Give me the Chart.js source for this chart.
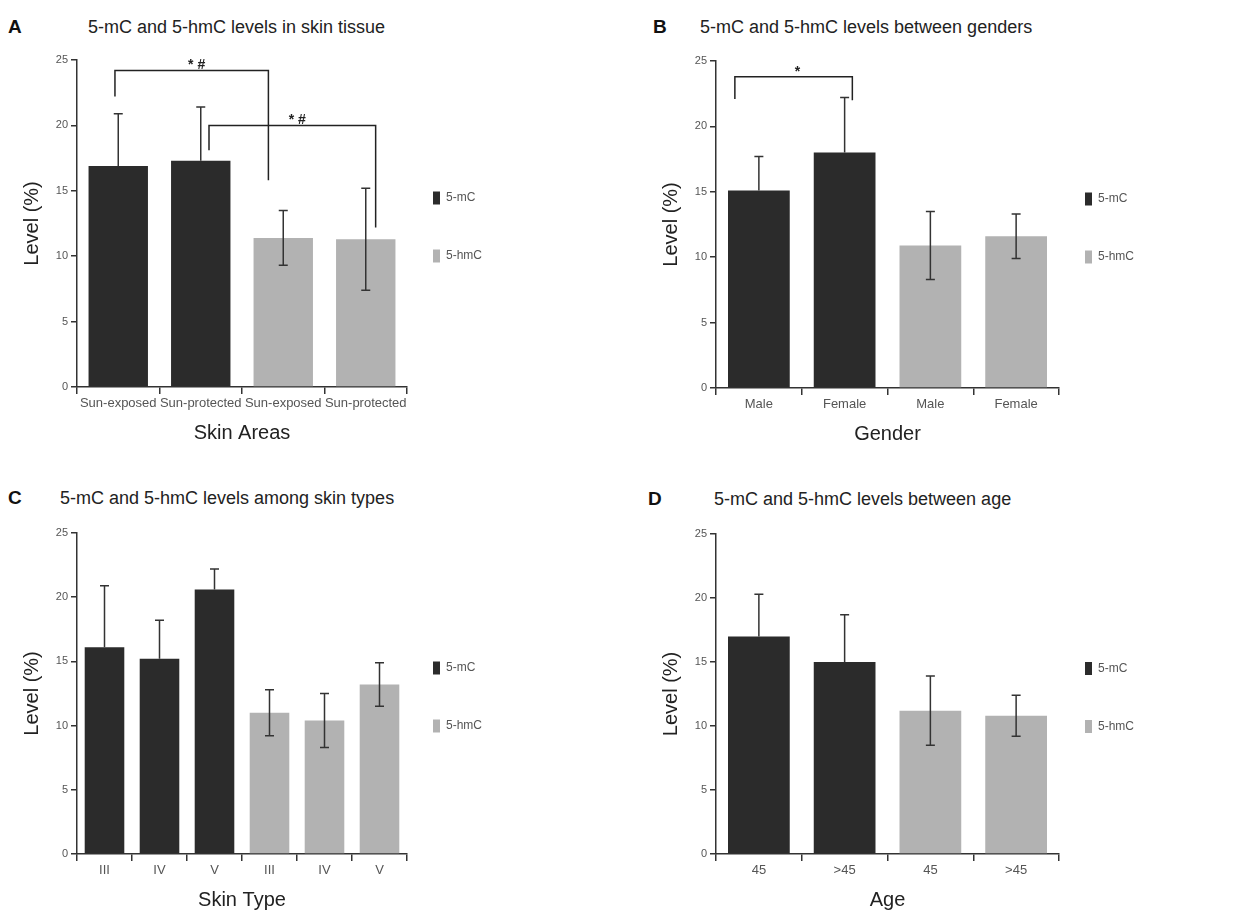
<!DOCTYPE html>
<html>
<head>
<meta charset="utf-8">
<script src="https://cdn.jsdelivr.net/npm/chart.js@4.4.1/dist/chart.umd.min.js"></script>
<style>
html, body { margin: 0; padding: 0; background: #fff; width: 1237px; height: 916px; overflow: hidden; }
canvas { position: absolute; }
.letter { position: absolute; font: bold 19px "Liberation Sans", Arial, sans-serif; color: #111; line-height: 22px; }
.title { position: absolute; font: 18px "Liberation Sans", Arial, sans-serif; color: #222; line-height: 22px; white-space: nowrap; }
</style>
</head>
<body>
<div class="letter" style="left:8px;top:16px">A</div>
<div class="title" style="left:88px;top:16px">5-mC and 5-hmC levels in skin tissue</div>
<div class="letter" style="left:653px;top:16px">B</div>
<div class="title" style="left:700px;top:16px">5-mC and 5-hmC levels between genders</div>
<div class="letter" style="left:8px;top:487px">C</div>
<div class="title" style="left:60px;top:487px">5-mC and 5-hmC levels among skin types</div>
<div class="letter" style="left:648px;top:488px">D</div>
<div class="title" style="left:714px;top:488px">5-mC and 5-hmC levels between age</div>

<canvas id="chartA" width="495" height="410" style="left:0;top:45px"></canvas>
<canvas id="chartB" width="508" height="410" style="left:639px;top:46px"></canvas>
<canvas id="chartC" width="495" height="404" style="left:0;top:518px"></canvas>
<canvas id="chartD" width="508" height="403" style="left:639px;top:519px"></canvas>

<script>
// series names
const seriesNames = ['5-mC', '5-hmC'];
const yTicks = [0, 5, 10, 15, 20, 25];

// A - skin areas
const areaLabels = ['Sun-exposed', 'Sun-protected', 'Sun-exposed', 'Sun-protected'];
const areaMC = [16.9, 17.3, null, null];
const areaHMC = [null, null, 11.4, 11.3];
const areaErr = [4.0, 4.1, 2.1, 3.9];

// B - gender
const genderLabels = ['Male', 'Female', 'Male', 'Female'];
const genderMC = [15.1, 18.0, null, null];
const genderHMC = [null, null, 10.9, 11.6];
const genderErr = [2.6, 4.2, 2.6, 1.7];

// C - skin type
const typeLabels = ['III', 'IV', 'V', 'III', 'IV', 'V'];
const typeMC = [16.1, 15.2, 20.6, null, null, null];
const typeHMC = [null, null, null, 11.0, 10.4, 13.2];
const typeErr = [4.8, 3.0, 1.6, 1.8, 2.1, 1.7];

// D - age
const ageLabels = ['45', '>45', '45', '>45'];
const ageMC = [17.0, 15.0, null, null];
const ageHMC = [null, null, 11.2, 10.8];
const ageErr = [3.3, 3.7, 2.7, 1.6];

// significance brackets (category index, value)
const areaSig = [
    {from: -0.04, to: 1.82, top: 24.2, left: 22.2, right: 15.8, text: '* #', at: 0.95},
    {from: 1.1, to: 3.12, top: 20.0, left: 18.1, right: 12.2, text: '* #', at: 2.17}
];
const genderSig = [
    {from: -0.28, to: 1.09, top: 23.8, left: 22.1, right: 22.0, text: '*', at: 0.45}
];

const DARK = '#2b2b2b';
const GREY = '#b2b2b2';
const FONT = '"Liberation Sans", Arial, sans-serif';
Chart.defaults.font.family = FONT;

// error bars drawn from each bar element
const errorBars = {
    id: 'errorBars',
    afterDatasetsDraw(chart) {
        const {ctx, scales: {y}} = chart;
        ctx.save();
        ctx.strokeStyle = '#333';
        ctx.lineWidth = 1.5;
        chart.data.datasets.forEach((ds, i) => {
            chart.getDatasetMeta(i).data.forEach((bar, j) => {
                const v = ds.data[j];
                if (v == null) return;
                const e = ds.errors[j];
                const top = y.getPixelForValue(v + e);
                // lower whisker is hidden inside the dark bars
                const bot = ds.lowerWhisker ? y.getPixelForValue(v - e) : bar.y;
                ctx.beginPath();
                ctx.moveTo(bar.x, top);
                ctx.lineTo(bar.x, bot);
                ctx.moveTo(bar.x - 4.5, top);
                ctx.lineTo(bar.x + 4.5, top);
                if (ds.lowerWhisker) {
                    ctx.moveTo(bar.x - 4.5, bot);
                    ctx.lineTo(bar.x + 4.5, bot);
                }
                ctx.stroke();
            });
        });
        ctx.restore();
    }
};

// significance brackets
const brackets = {
    id: 'brackets',
    afterDatasetsDraw(chart, args, opts) {
        const list = opts.items || [];
        const {ctx, scales: {x, y}} = chart;
        ctx.save();
        ctx.strokeStyle = '#222';
        ctx.fillStyle = '#222';
        ctx.lineWidth = 1.5;
        ctx.font = 'bold 14px ' + FONT;
        ctx.textAlign = 'center';
        ctx.textBaseline = 'bottom';
        list.forEach(b => {
            const x1 = x.getPixelForValue(b.from);
            const x2 = x.getPixelForValue(b.to);
            const yt = y.getPixelForValue(b.top);
            ctx.beginPath();
            ctx.moveTo(x1, y.getPixelForValue(b.left));
            ctx.lineTo(x1, yt);
            ctx.lineTo(x2, yt);
            ctx.lineTo(x2, y.getPixelForValue(b.right));
            ctx.stroke();
            ctx.fillText(b.text, x.getPixelForValue(b.at), yt + 2);
        });
        ctx.restore();
    }
};

function makeChart(id, labels, mc, hmc, err, xTitle, sig) {
    return new Chart(document.getElementById(id), {
        type: 'bar',
        data: {
            labels: labels,
            datasets: [
                {label: seriesNames[0], data: mc, errors: err, lowerWhisker: false, backgroundColor: DARK, grouped: false},
                {label: seriesNames[1], data: hmc, errors: err, lowerWhisker: true, backgroundColor: GREY, grouped: false}
            ]
        },
        options: {
            responsive: false,
            animation: false,
            barPercentage: 0.72,
            categoryPercentage: 1,
            layout: {padding: {top: 15, right: 10, left: 0, bottom: 0}},
            scales: {
                x: {
                    afterFit: s => { s.height = 68; },
                    grid: {drawOnChartArea: false, tickLength: 7, color: '#333', lineWidth: 1.5},
                    border: {color: '#333', width: 1.5},
                    ticks: {color: '#555', font: {size: 13}, maxRotation: 0, autoSkip: false, padding: 2},
                    title: {display: true, text: xTitle, color: '#222', font: {size: 20}, padding: {top: 0, bottom: 10}}
                },
                y: {
                    min: 0,
                    max: 25,
                    afterFit: s => { s.width = 77; },
                    afterBuildTicks: s => { s.ticks = yTicks.map(v => ({value: v})); },
                    grid: {drawOnChartArea: false, tickLength: 6, color: '#333', lineWidth: 1.5},
                    border: {color: '#333', width: 1.5},
                    ticks: {color: '#555', font: {size: 11}, padding: 3},
                    title: {display: true, text: 'Level (%)', color: '#222', font: {size: 20}, padding: {top: 20, bottom: 0}}
                }
            },
            plugins: {
                tooltip: {enabled: false},
                brackets: {items: sig},
                legend: {
                    position: 'right',
                    fullSize: false,
                    maxWidth: 78,
                    title: {display: true, text: ' ', padding: 7, font: {size: 10}},
                    labels: {
                        boxWidth: 7,
                        boxHeight: 13,
                        padding: 26,
                        color: '#555',
                        font: {size: 12, lineHeight: '32px'},
                        generateLabels: chart => Chart.defaults.plugins.legend.labels.generateLabels(chart)
                            .map(item => Object.assign(item, {text: [item.text], lineWidth: 0}))
                    }
                }
            }
        },
        plugins: [errorBars, brackets]
    });
}

makeChart('chartA', areaLabels, areaMC, areaHMC, areaErr, 'Skin Areas', areaSig);
makeChart('chartB', genderLabels, genderMC, genderHMC, genderErr, 'Gender', genderSig);
makeChart('chartC', typeLabels, typeMC, typeHMC, typeErr, 'Skin Type', []);
makeChart('chartD', ageLabels, ageMC, ageHMC, ageErr, 'Age', []);
</script>
</body>
</html>
